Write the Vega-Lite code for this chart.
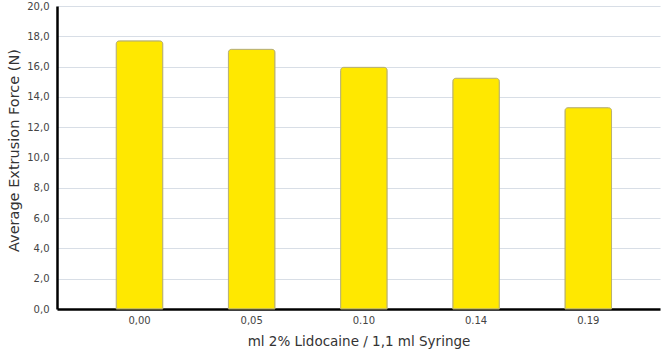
{
  "$schema": "https://vega.github.io/schema/vega-lite/v6.json",
  "width": 603,
  "height": 303,
  "autosize": {"type": "none"},
  "padding": {"left": 57, "top": 6, "right": 1, "bottom": 46},
  "background": "white",
  "config": {
    "view": {"stroke": null},
    "font": "DejaVu Sans"
  },
  "data": {
    "values": [
      {"volume": "0,00", "force": 17.7},
      {"volume": "0,05", "force": 17.14},
      {"volume": "0.10", "force": 15.95},
      {"volume": "0.14", "force": 15.23},
      {"volume": "0.19", "force": 13.29}
    ]
  },
  "mark": {
    "type": "bar",
    "fill": "#ffe800",
    "stroke": "#b8b070",
    "strokeWidth": 1,
    "cornerRadiusTopLeft": 3,
    "cornerRadiusTopRight": 3
  },
  "encoding": {
    "x": {
      "field": "volume",
      "type": "nominal",
      "sort": null,
      "scale": {"paddingInner": 0.585, "paddingOuter": 0.48, "align": 0.55},
      "axis": {
        "title": "ml 2% Lidocaine / 1,1 ml Syringe",
        "titleFont": "DejaVu Sans",
        "titleFontWeight": "normal",
        "titleFontSize": 13.5,
        "titleColor": "#333333",
        "titlePadding": 9,
        "labelAngle": 0,
        "labelFont": "DejaVu Sans",
        "labelFontSize": 10,
        "labelColor": "#444444",
        "labelPadding": 6,
        "ticks": false,
        "domainColor": "#000000",
        "domainWidth": 2.5,
        "grid": false
      }
    },
    "y": {
      "field": "force",
      "type": "quantitative",
      "scale": {"domain": [0, 20], "nice": false},
      "axis": {
        "title": "Average Extrusion Force (N)",
        "titleFont": "DejaVu Sans",
        "titleFontWeight": "normal",
        "titleFontSize": 14.5,
        "titleColor": "#333333",
        "titlePadding": 5,
        "titleY": 144,
        "titleAlign": "center",
        "values": [0, 2, 4, 6, 8, 10, 12, 14, 16, 18, 20],
        "labelExpr": "replace(format(datum.value, '.1f'), '.', ',')",
        "labelFont": "DejaVu Sans",
        "labelFontSize": 10,
        "labelColor": "#444444",
        "labelPadding": 8,
        "ticks": false,
        "domainColor": "#000000",
        "domainWidth": 2.5,
        "gridColor": "#d8dee6",
        "gridWidth": 1.2
      }
    }
  }
}
